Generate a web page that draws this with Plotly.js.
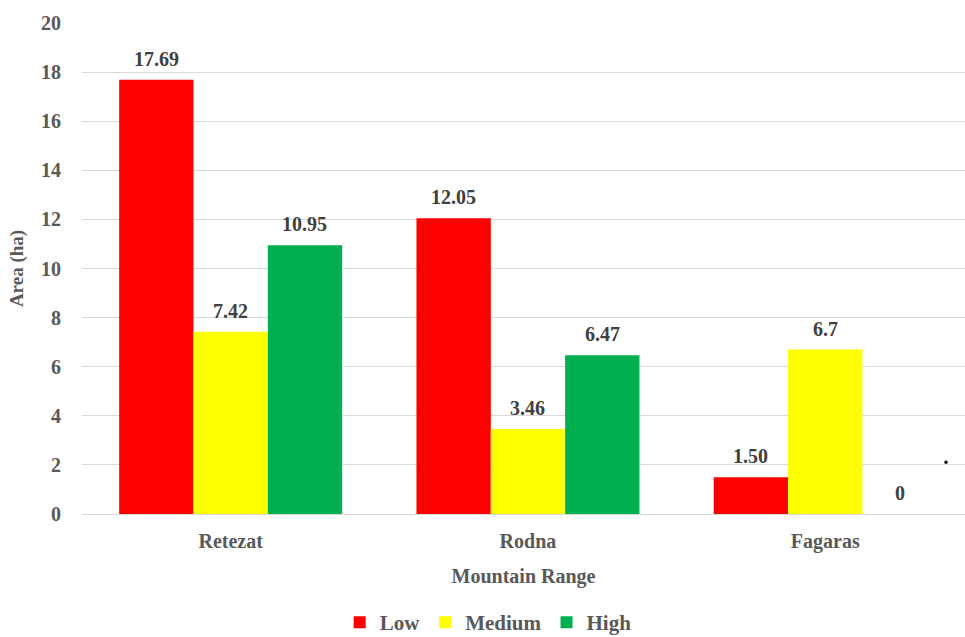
<!DOCTYPE html>
<html>
<head>
<meta charset="utf-8">
<script src="https://cdn.plot.ly/plotly-3.0.1.min.js"></script>
<style>html,body{margin:0;padding:0;background:#fff;}#chart{width:965px;height:637px;}</style>
</head>
<body>
<div id="chart"></div>
<script>
// Mountain ranges and area (ha) per class
const ranges = ['Retezat', 'Rodna', 'Fagaras'];
const lowArea = [17.69, 12.05, 1.50];
const mediumArea = [7.42, 3.46, 6.7];
const highArea = [10.95, 6.47, 0];
const lowLabels = ['17.69', '12.05', '1.50'];
const mediumLabels = ['7.42', '3.46', '6.7'];
const highLabels = ['10.95', '6.47', '0'];
const yTicks = [0, 2, 4, 6, 8, 10, 12, 14, 16, 18, 20];

const FONT = 'Liberation Serif';
const GREY = '#595959';
const BARGAP = 0.25;

const classes = [
  {name: 'Low', y: lowArea, labels: lowLabels, color: '#ff0000'},
  {name: 'Medium', y: mediumArea, labels: mediumLabels, color: '#ffff00'},
  {name: 'High', y: highArea, labels: highLabels, color: '#00b050'}
];

const data = classes.map(c => ({
  type: 'bar', name: c.name, x: ranges, y: c.y,
  marker: {color: c.color}, hoverinfo: 'skip'
}));

// value labels above each bar, placed at the bar's slot within its group
const barW = (1 - BARGAP) / classes.length;
const annotations = [];
classes.forEach((c, k) => {
  c.y.forEach((v, i) => {
    annotations.push({
      x: i + (k - (classes.length - 1) / 2) * barW, y: v,
      xref: 'x', yref: 'y', text: '<b>' + c.labels[i] + '</b>',
      showarrow: false, xanchor: 'center', yanchor: 'bottom', yshift: 8,
      font: {family: FONT, size: 20, color: '#404040'}
    });
  });
});

const layout = {
  width: 965, height: 637,
  margin: {l: 82, r: 0, t: 23, b: 123, autoexpand: false},
  paper_bgcolor: '#ffffff', plot_bgcolor: '#ffffff',
  barmode: 'group', bargap: BARGAP, bargroupgap: 0,
  font: {family: FONT, color: GREY},
  xaxis: {
    type: 'category', range: [-0.5, 2.47], showgrid: false, zeroline: false, showline: false,
    ticks: '', tickfont: {family: FONT, size: 20, color: GREY, weight: 'bold'},
    ticklabelstandoff: 13, automargin: false,
    title: {text: '<b>Mountain Range</b>', font: {family: FONT, size: 20, color: GREY}, standoff: 16}
  },
  yaxis: {
    range: [0, 20], tickvals: yTicks, showgrid: true, gridcolor: '#d9d9d9', gridwidth: 1,
    zeroline: true, zerolinecolor: '#d9d9d9', zerolinewidth: 1, showline: false, ticks: '',
    tickfont: {family: FONT, size: 20, color: GREY, weight: 'bold'},
    ticklabelstandoff: 20, automargin: false,
    title: {text: '<b>Area (ha)</b>', font: {family: FONT, size: 19, color: GREY}, standoff: 12}
  },
  annotations: annotations,
  shapes: [{
    type: 'circle', xref: 'paper', yref: 'paper',
    x0: 0.9765, x1: 0.9805, y0: 0.102, y1: 0.109,
    fillcolor: '#000000', line: {width: 0}
  }],
  showlegend: true,
  legend: {
    orientation: 'h', x: 0.46, xanchor: 'center', yref: 'paper', y: -0.221, yanchor: 'middle',
    font: {family: FONT, size: 21, color: GREY, weight: 'bold'},
    itemwidth: 20, traceorder: 'normal'
  }
};

Plotly.newPlot('chart', data, layout, {displayModeBar: false, staticPlot: true});
</script>
</body>
</html>
